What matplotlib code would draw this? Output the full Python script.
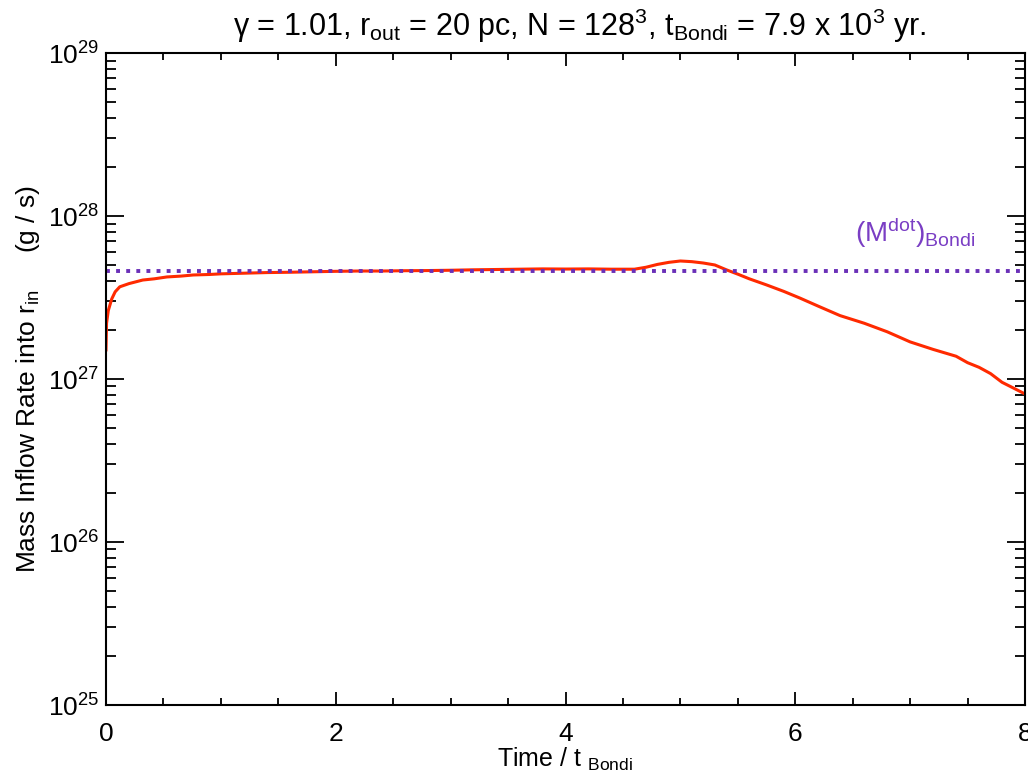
import numpy as np
from matplotlib import pyplot as plt
from matplotlib.ticker import LogLocator, MultipleLocator

plt.rcParams['font.family'] = ['Liberation Sans', 'DejaVu Sans']
plt.rcParams['mathtext.fontset'] = 'custom'
plt.rcParams['mathtext.rm'] = 'Liberation Sans'
plt.rcParams['mathtext.it'] = 'Liberation Sans'

# time in units of t_Bondi, inflow rate in units of 1e27 g/s
time = [0, 0.005, 0.02, 0.05, 0.08, 0.12, 0.2, 0.32, 0.42, 0.53,
        0.65, 0.76, 0.9, 1.0, 1.2, 1.4, 1.6, 1.8, 2.0, 2.2,
        2.4, 2.6, 2.8, 3.0, 3.2, 3.4, 3.6, 3.8, 4.0, 4.2,
        4.4, 4.6, 4.7, 4.8, 4.9, 5.0, 5.1, 5.2, 5.3, 5.4,
        5.5, 5.6, 5.75, 5.9, 6.04, 6.2, 6.39, 6.6, 6.8, 7.0,
        7.2, 7.4, 7.5, 7.6, 7.7, 7.8, 7.9, 8.0]
rate = [1.51, 2.2, 2.63, 3.1, 3.43, 3.68, 3.85, 4.05, 4.12, 4.23,
        4.28, 4.35, 4.38, 4.42, 4.46, 4.5, 4.52, 4.55, 4.58, 4.6,
        4.6, 4.62, 4.63, 4.65, 4.68, 4.7, 4.72, 4.74, 4.73, 4.74,
        4.72, 4.72, 4.85, 5.05, 5.2, 5.3, 5.25, 5.15, 5.01, 4.68,
        4.4, 4.12, 3.78, 3.45, 3.14, 2.8, 2.45, 2.2, 1.95, 1.69,
        1.52, 1.38, 1.26, 1.18, 1.08, 0.955, 0.88, 0.81]
mdot_bondi = 4.6e27

fig = plt.figure(figsize=(10.28, 7.78), dpi=100)
ax = fig.add_axes([0.1031, 0.0938, 0.894, 0.838])

ax.plot(time, np.array(rate) * 1e27, color='#ff2a00', lw=2.2)
ax.axhline(mdot_bondi, color='#6a2fb8', lw=2.8, ls=(0, (1, 1.6)))
ax.text(6.52, 7.9e27, r'(M$^{\rm dot}$)$_{\rm Bondi}$', color='#7a3ec4',
        fontsize=20, va='center')

ax.set_yscale('log')
ax.set_xlim(0, 8)
ax.set_ylim(1e25, 1e29)

ax.xaxis.set_major_locator(MultipleLocator(2))
ax.xaxis.set_minor_locator(MultipleLocator(0.5))
ax.yaxis.set_major_locator(LogLocator(base=10, numticks=10))
ax.yaxis.set_minor_locator(LogLocator(base=10, subs=np.arange(2, 10), numticks=20))
ax.yaxis.set_major_formatter(plt.FuncFormatter(
    lambda v, p: r'$\mathregular{10^{%d}}$' % round(np.log10(v))))
ax.yaxis.set_minor_formatter(plt.NullFormatter())

ax.tick_params(axis='both', which='both', direction='in', top=True, right=True,
               labelsize=19, width=1.3)
ax.tick_params(axis='x', which='major', length=9.5, pad=12)
ax.tick_params(axis='x', which='minor', length=5)
ax.tick_params(axis='y', which='major', length=13, pad=5)
ax.tick_params(axis='y', which='minor', length=7)
for s in ax.spines.values():
    s.set_linewidth(1.5)

ax.set_xlabel(r'Time / t $_{\rm Bondi}$', fontsize=18, labelpad=0)
ax.set_ylabel(r'Mass Inflow Rate into r$_{\rm in}$     (g / s)', fontsize=19, labelpad=4)
ax.set_title('γ = 1.01, r$_{\\rm out}$ = 20 pc, N = 128$^3$, t$_{\\rm Bondi}$ = 7.9 x 10$^3$ yr.',
             fontsize=22, x=0.515, pad=12)

plt.savefig('out.png', dpi=100)
